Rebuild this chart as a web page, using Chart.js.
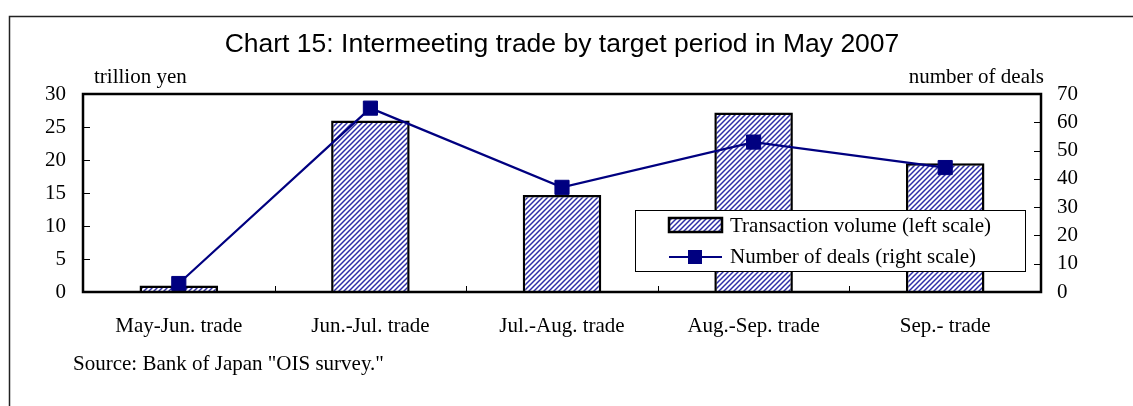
<!DOCTYPE html>
<html>
<head>
<meta charset="utf-8">
<script src="https://cdn.jsdelivr.net/npm/chart.js@4.4.1/dist/chart.umd.min.js"></script>
<style>
html, body { margin: 0; padding: 0; background: #fff; }
#wrap { width: 1133px; height: 406px; position: relative; }
</style>
</head>
<body>
<div id="wrap"><canvas id="chart15"></canvas></div>
<script>
const categories = ["May-Jun. trade", "Jun.-Jul. trade", "Jul.-Aug. trade", "Aug.-Sep. trade", "Sep.- trade"];
const volumeTrillionYen = [1.0, 26.0, 14.7, 27.2, 19.5];
const numberOfDeals = [3, 65, 37, 53, 44];
const volumeLabel = "Transaction volume (left scale)";
const dealsLabel = "Number of deals (right scale)";
const titleText = "Chart 15: Intermeeting trade by target period in May 2007";
const leftUnit = "trillion yen";
const rightUnit = "number of deals";
const sourceText = 'Source: Bank of Japan "OIS survey."';

const serif = "'Liberation Serif', 'Times New Roman', serif";
const sans = "'Liberation Sans', Arial, sans-serif";
const navy = "#000080";

// diagonal hatch fill for the bars
function makeHatch() {
    const c = document.createElement("canvas");
    c.width = 5;
    c.height = 5;
    const g = c.getContext("2d");
    g.fillStyle = "#fff";
    g.fillRect(0, 0, 5, 5);
    g.strokeStyle = "#2f2fa8";
    g.lineWidth = 1.5;
    g.beginPath();
    g.moveTo(0, 5); g.lineTo(5, 0);
    g.moveTo(-1, 1); g.lineTo(1, -1);
    g.moveTo(4, 6); g.lineTo(6, 4);
    g.stroke();
    return g.createPattern(c, "repeat");
}
const hatch = makeHatch();

const decorations = {
    id: "decorations",
    beforeDraw(chart) {
        const ctx = chart.ctx;
        ctx.save();
        ctx.strokeStyle = "#222";
        ctx.lineWidth = 1.5;
        ctx.beginPath();
        ctx.moveTo(9.5, 406);
        ctx.lineTo(9.5, 16.5);
        ctx.lineTo(1133, 16.5);
        ctx.stroke();
        ctx.restore();
    },
    afterDatasetsDraw(chart) {
        const ctx = chart.ctx;
        const a = chart.chartArea;
        const yl = chart.scales.y;
        const yr = chart.scales.y2;
        const x = chart.scales.x;
        ctx.save();
        ctx.strokeStyle = "#000";
        ctx.lineWidth = 1;
        ctx.beginPath();
        yl.ticks.forEach(t => {
            const py = Math.round(yl.getPixelForValue(t.value)) + 0.5;
            ctx.moveTo(a.left, py); ctx.lineTo(a.left + 7, py);
        });
        yr.ticks.forEach(t => {
            const py = Math.round(yr.getPixelForValue(t.value)) + 0.5;
            ctx.moveTo(a.right - 7, py); ctx.lineTo(a.right, py);
        });
        for (let i = 0; i < categories.length - 1; i++) {
            const px = Math.round((x.getPixelForTick(i) + x.getPixelForTick(i + 1)) / 2) + 0.5;
            ctx.moveTo(px, a.bottom - 6); ctx.lineTo(px, a.bottom);
        }
        ctx.stroke();
        ctx.lineWidth = 2.5;
        ctx.strokeRect(a.left, a.top, a.right - a.left, a.bottom - a.top);
        ctx.restore();
    },
    afterDraw(chart) {
        const ctx = chart.ctx;
        ctx.save();
        ctx.fillStyle = "#000";
        ctx.textBaseline = "alphabetic";
        ctx.font = "26.5px " + sans;
        ctx.textAlign = "center";
        ctx.fillText(titleText, 562, 52);
        ctx.textBaseline = "middle";
        ctx.font = "21px " + serif;
        ctx.textAlign = "left";
        ctx.fillText(leftUnit, 94, 77);
        ctx.fillText(sourceText, 73, 364);
        ctx.textAlign = "right";
        ctx.fillText(rightUnit, 1044, 77);

        // legend box
        const lx = 635, ly = 210, lw = 390, lh = 61;
        ctx.fillStyle = "#fff";
        ctx.fillRect(lx, ly, lw, lh);
        ctx.strokeStyle = "#000";
        ctx.lineWidth = 1;
        ctx.strokeRect(lx + 0.5, ly + 0.5, lw, lh);
        const barDs = chart.data.datasets[1];
        const lineDs = chart.data.datasets[0];
        ctx.fillStyle = barDs.backgroundColor;
        ctx.fillRect(669, 218, 53, 14);
        ctx.lineWidth = 2.5;
        ctx.strokeStyle = barDs.borderColor;
        ctx.strokeRect(669, 218, 53, 14);
        ctx.strokeStyle = lineDs.borderColor;
        ctx.lineWidth = 2;
        ctx.beginPath();
        ctx.moveTo(669, 257); ctx.lineTo(722, 257);
        ctx.stroke();
        ctx.fillStyle = lineDs.pointBackgroundColor;
        ctx.fillRect(688, 250, 14, 14);
        ctx.fillStyle = "#000";
        ctx.textAlign = "left";
        ctx.fillText(barDs.label, 730, 226);
        ctx.fillText(lineDs.label, 730, 257);
        ctx.restore();
    }
};

new Chart(document.getElementById("chart15"), {
    data: {
        labels: categories,
        datasets: [
            {
                type: "line",
                label: dealsLabel,
                data: numberOfDeals,
                yAxisID: "y2",
                borderColor: navy,
                borderWidth: 2.2,
                pointStyle: "rect",
                pointRadius: 10,
                pointBackgroundColor: navy,
                pointBorderColor: navy,
                pointBorderWidth: 1,
                tension: 0,
                order: 0
            },
            {
                type: "bar",
                label: volumeLabel,
                data: volumeTrillionYen,
                yAxisID: "y",
                backgroundColor: hatch,
                borderColor: "#000",
                borderWidth: 2.5,
                barPercentage: 0.41,
                categoryPercentage: 1,
                order: 1
            }
        ]
    },
    options: {
        responsive: true,
        maintainAspectRatio: false,
        animation: false,
        events: [],
        layout: { padding: { top: 94, left: 0, right: 0, bottom: 0 } },
        plugins: {
            legend: { display: false },
            title: { display: false },
            tooltip: { enabled: false }
        },
        scales: {
            x: {
                grid: { display: false, drawTicks: false },
                border: { display: false },
                ticks: { color: "#000", font: { family: serif, size: 21 }, padding: 22, maxRotation: 0 },
                afterFit(s) { s.height = 114; }
            },
            y: {
                position: "left",
                min: 0,
                max: 30,
                grid: { display: false, drawTicks: false },
                border: { display: false },
                ticks: { stepSize: 5, color: "#000", font: { family: serif, size: 21 }, padding: 17 },
                afterFit(s) { s.width = 83; }
            },
            y2: {
                position: "right",
                min: 0,
                max: 70,
                grid: { display: false, drawTicks: false },
                border: { display: false },
                ticks: { stepSize: 10, color: "#000", font: { family: serif, size: 21 }, padding: 16 },
                afterFit(s) { s.width = 92; }
            }
        }
    },
    plugins: [decorations]
});
</script>
</body>
</html>
